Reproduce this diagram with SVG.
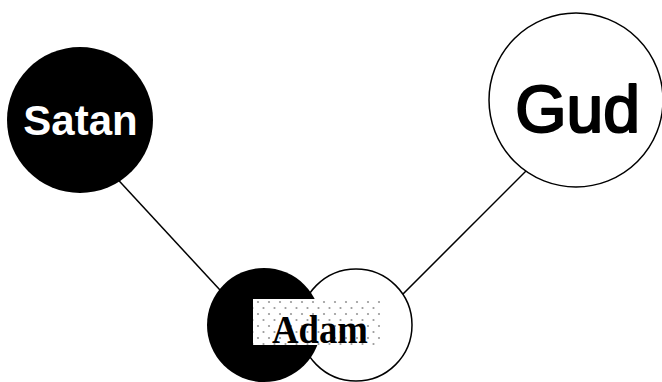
<svg xmlns="http://www.w3.org/2000/svg" width="662" height="382" viewBox="0 0 662 382">
<style>
.edge{stroke:#000;stroke-width:1.5;fill:none}
.lbl{font-family:"Liberation Sans",Arial,sans-serif;text-anchor:middle}
</style>
<defs>
<pattern id="dots" width="11" height="12" patternUnits="userSpaceOnUse" x="256" y="300">
<rect width="11" height="12" fill="#fff"/>
<circle cx="2" cy="2" r="1.1" fill="#999"/>
<circle cx="7.5" cy="8" r="1.1" fill="#999"/>
</pattern>
</defs>
<rect width="662" height="382" fill="#fff"/>
<g id="connectors">
<line class="edge" x1="110" y1="171" x2="232" y2="303"/>
<line class="edge" x1="535" y1="162" x2="395" y2="302"/>
</g>
<g id="satan">
<circle cx="80" cy="120" r="73" fill="#000"/>
<text class="lbl" x="80.5" y="135" font-size="42" font-weight="bold" fill="#fff">Satan</text>
</g>
<g id="gud">
<circle cx="576" cy="100" r="87" fill="#fff" stroke="#000" stroke-width="1.5"/>
<text class="lbl" x="577.5" y="132" font-size="66" fill="#000" stroke="#000" stroke-width="2.2" stroke-linejoin="round">Gud</text>
</g>
<g id="adam">
<circle cx="356" cy="325" r="56" fill="#fff" stroke="#000" stroke-width="1.5"/>
<circle cx="264" cy="325" r="57" fill="#000"/>
<rect x="253" y="299" width="127" height="46" fill="url(#dots)"/>
<text x="320" y="343" font-family="'Liberation Serif','Times New Roman',serif" font-weight="bold" font-size="41" text-anchor="middle" textLength="96" lengthAdjust="spacingAndGlyphs">Adam</text>
</g>
</svg>
